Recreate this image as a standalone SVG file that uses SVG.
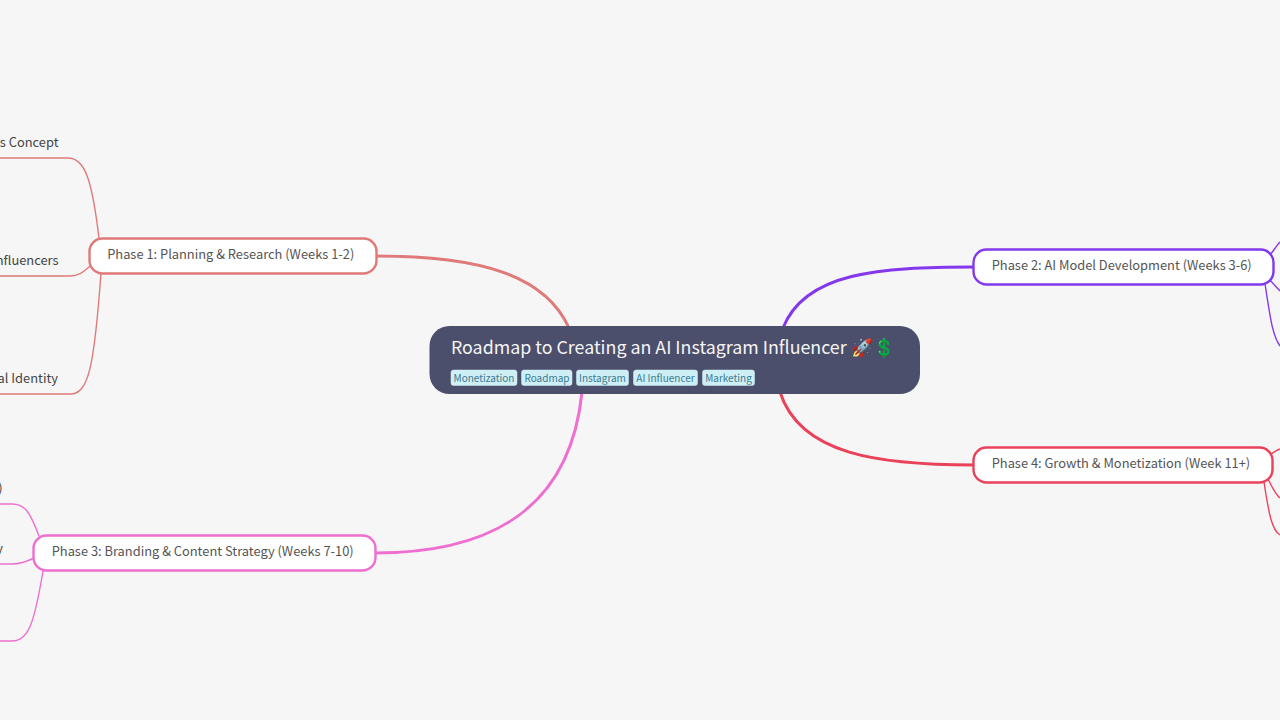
<svg xmlns="http://www.w3.org/2000/svg" width="1280" height="720" viewBox="0 0 1280 720">
<style>
text{font-family:"Noto Sans CJK SC","Noto Sans",sans-serif}
.main{fill:none;stroke-width:3;stroke-linecap:round}
.sub{fill:none;stroke-width:1.4}
.box{fill:#fff;stroke-width:2.4}
.lab{font-size:12.87px;fill:#555}
.leaf{font-size:12.87px;fill:#444;text-anchor:end}
.tag{fill:#cfeff7;stroke:#cfeff7;stroke-width:.5}
.tagt{font-size:10px;fill:#3a7a90;text-anchor:middle}
</style>
<rect width="1280" height="720" fill="#f6f6f6"/>
<g id="connectors">
<path class="main" stroke="#e07a7a" d="M376 256C480 256 545 275 569 328"/>
<path class="main" stroke="#8338ec" d="M974 267C880 267 805 272 783 328"/>
<path class="main" stroke="#ee6fd0" d="M375 553C490 553 570 510 582 392"/>
<path class="main" stroke="#e9425a" d="M974 465C880 465 800 455 780 392"/>
<path class="sub" stroke="#e07a7a" d="M0 158H68C85 158 92 180 99 238"/>
<path class="sub" stroke="#e07a7a" d="M0 276H70C80 276 84 271 90 266"/>
<path class="sub" stroke="#e07a7a" d="M0 394H70C88 394 94 370 101 273"/>
<path class="sub" stroke="#ee6fd0" d="M0 504H12C25 504 30 512 39 536"/>
<path class="sub" stroke="#ee6fd0" d="M0 564H12C22 564 28 561 34 558"/>
<path class="sub" stroke="#ee6fd0" d="M0 641H12C28 641 34 625 43 571"/>
<path class="sub" stroke="#8338ec" d="M1270 255C1274 250 1277 245 1280 242"/>
<path class="sub" stroke="#8338ec" d="M1270 280C1274 285 1277 288 1280 291"/>
<path class="sub" stroke="#8338ec" d="M1265 284C1270 315 1272 335 1280 346"/>
<path class="sub" stroke="#e9425a" d="M1270 455C1274 452 1277 450 1280 449"/>
<path class="sub" stroke="#e9425a" d="M1268 479C1272 487 1276 495 1280 498"/>
<path class="sub" stroke="#e9425a" d="M1264 482C1269 515 1272 530 1280 535"/>
</g>
<g id="root">
<rect x="429.500" y="326" width="490.500" height="68" rx="20" fill="#4c4f6b"/>
<text x="451" y="354" font-size="17.820px" fill="#f5f5f5">Roadmap to Creating an AI Instagram Influencer 🚀💲</text>
<rect class="tag" x="451" y="370" width="66" height="15.500" rx="2.500"/><text class="tagt" x="484" y="382">Monetization</text>
<rect class="tag" x="521.500" y="370" width="50.500" height="15.500" rx="2.500"/><text class="tagt" x="547" y="382">Roadmap</text>
<rect class="tag" x="576.500" y="370" width="52" height="15.500" rx="2.500"/><text class="tagt" x="602.500" y="382">Instagram</text>
<rect class="tag" x="633.500" y="370" width="64" height="15.500" rx="2.500"/><text class="tagt" x="665.500" y="382">AI Influencer</text>
<rect class="tag" x="702.500" y="370" width="52" height="15.500" rx="2.500"/><text class="tagt" x="728.500" y="382">Marketing</text>
</g>
<g id="phase1">
<rect class="box" stroke="#e07a7a" x="89.500" y="238.500" width="287" height="35" rx="13"/>
<text class="lab" x="107.200" y="259">Phase 1: Planning &amp; Research (Weeks 1-2)</text>
</g>
<g id="phase2">
<rect class="box" stroke="#8338ec" x="973.500" y="249.500" width="300" height="35" rx="13"/>
<text class="lab" x="991.700" y="270">Phase 2: AI Model Development (Weeks 3-6)</text>
</g>
<g id="phase3">
<rect class="box" stroke="#ee6fd0" x="33.500" y="535.500" width="342" height="35" rx="13"/>
<text class="lab" x="51.700" y="556.300">Phase 3: Branding &amp; Content Strategy (Weeks 7-10)</text>
</g>
<g id="phase4">
<rect class="box" stroke="#e9425a" x="973.500" y="447.500" width="299" height="35" rx="13"/>
<text class="lab" x="991.700" y="468">Phase 4: Growth &amp; Monetization (Week 11+)</text>
</g>
<g id="leaves">
<text class="leaf" x="58.500" y="147">s Concept</text>
<text class="leaf" x="58.500" y="265">nfluencers</text>
<text class="leaf" x="58" y="383">al Identity</text>
<text class="leaf" x="2.500" y="493">)</text>
<text class="leaf" x="3" y="553">y</text>
</g>
</svg>
